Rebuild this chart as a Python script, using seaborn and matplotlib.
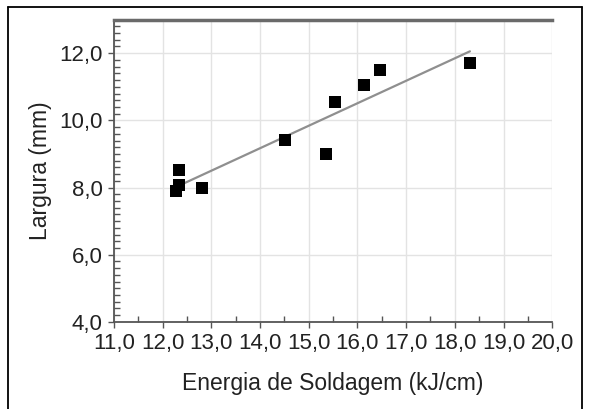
import matplotlib
matplotlib.use("Agg")
import matplotlib.pyplot as plt
import seaborn as sns
import numpy as np
import pandas as pd
from matplotlib.ticker import MultipleLocator, FuncFormatter
from matplotlib.lines import Line2D

energia = [12.27, 12.33, 12.33, 12.80, 14.51, 15.36, 15.54, 16.14, 16.47, 18.31]
largura = [7.90, 8.08, 8.53, 8.00, 9.43, 9.00, 10.54, 11.05, 11.51, 11.72]
x_label = "Energia de Soldagem (kJ/cm)"
y_label = "Largura (mm)"

df = pd.DataFrame({"energia": energia, "largura": largura})

sns.set_style("white")
plt.rcParams['font.family'] = ['Liberation Sans', 'DejaVu Sans']

fig = plt.figure(figsize=(5.9, 4.09), dpi=100)
ax = fig.add_axes([0.193, 0.213, 0.743, 0.739])

sns.regplot(data=df, x="energia", y="largura", ci=None, ax=ax, marker="s", color="black",
            scatter_kws=dict(s=68, alpha=1, edgecolor="black", linewidths=0, zorder=3),
            line_kws=dict(color="#8f8f8f", lw=1.6, zorder=2))

ax.set_xlim(11, 20)
ax.set_ylim(4, 13)
ax.xaxis.set_major_locator(MultipleLocator(1))
ax.xaxis.set_minor_locator(MultipleLocator(0.5))
ax.yaxis.set_major_locator(MultipleLocator(2))
ax.yaxis.set_minor_locator(MultipleLocator(0.2))
fmt = FuncFormatter(lambda v, p: f"{v:.1f}".replace(".", ","))
ax.xaxis.set_major_formatter(fmt)
ax.yaxis.set_major_formatter(fmt)

ax.grid(True, which="major", color="#e3e3e3", lw=1.0)
ax.set_axisbelow(True)

ax.tick_params(axis="both", which="major", direction="out", length=4, width=1, color="#555555",
               labelsize=16, labelcolor="#222222", pad=4, left=True, bottom=True)
ax.tick_params(axis="both", which="minor", direction="in", length=4, width=1, color="#555555",
               left=True, bottom=True)

for s in ["left", "bottom"]:
    ax.spines[s].set_color("#555555")
    ax.spines[s].set_linewidth(1.3)
ax.spines["top"].set_color("#6a6a6a")
ax.spines["top"].set_linewidth(2.5)
ax.spines["right"].set_visible(False)

ax.set_xlabel(x_label, fontsize=16.5, color="#222222", labelpad=13)
ax.set_ylabel(y_label, fontsize=16.5, color="#222222", labelpad=5)

# outer frame of the picture (left, top, right)
W, H = 590, 409
fx = lambda px: px / W
fy = lambda py: 1 - py / H
for xs, ys in [([fx(8), fx(8)], [0, fy(7)]),
               ([fx(8), fx(582)], [fy(7), fy(7)]),
               ([fx(582), fx(582)], [fy(7), 0])]:
    fig.add_artist(Line2D(xs, ys, color="black", lw=1.3, transform=fig.transFigure))

fig.savefig("out.png", dpi=100)
